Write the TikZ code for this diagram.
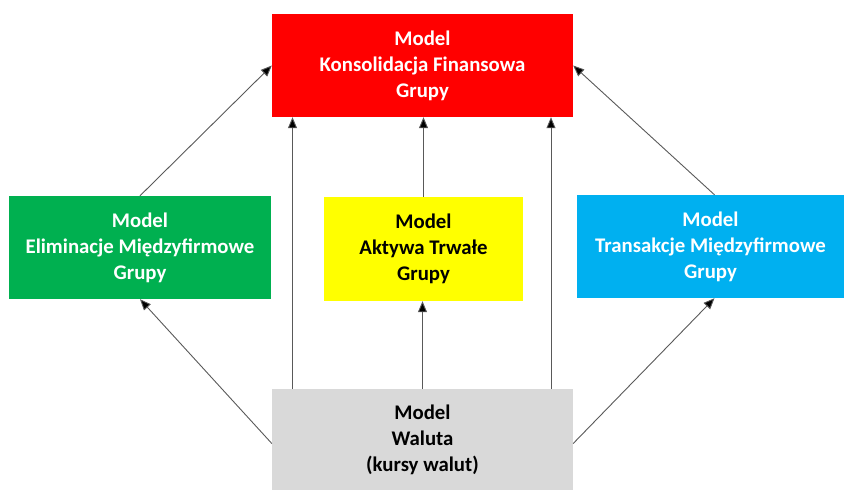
\documentclass[tikz,border=0pt]{standalone}
\usepackage{fontspec}
\setmainfont{Carlito}
\usepackage{xcolor}
\usepackage{tikz}
\usetikzlibrary{calc,arrows.meta}
\definecolor{mred}{HTML}{FF0000}
\definecolor{mgreen}{HTML}{00B050}
\definecolor{myellow}{HTML}{FFFF00}
\definecolor{mblue}{HTML}{00B0F0}
\definecolor{mgray}{HTML}{D9D9D9}
\definecolor{linegray}{HTML}{595959}
\tikzset{
  box/.style={rectangle, inner sep=0pt, align=center, font=\bfseries\fontsize{20.8}{26}\selectfont},
  arr/.style={draw=linegray, line width=0.9pt, -{Triangle[length=11pt,width=9pt,fill=black]}}
}

\begin{document}
\begin{tikzpicture}[x=1pt, y=-1pt]
  \useasboundingbox (0,0) rectangle (844,490);

  \node[box, fill=mred, text=white, minimum width=301pt, minimum height=103pt] (konsol) at (422.5,65.5)
    {Model\\Konsolidacja Finansowa\\Grupy};
  \node[box, fill=mgreen, text=white, minimum width=262pt, minimum height=103pt] (elim) at (140,247.5)
    {Model\\Eliminacje Międzyfirmowe\\Grupy};
  \node[box, fill=myellow, text=black, minimum width=199pt, minimum height=104pt] (aktywa) at (423.5,249)
    {Model\\Aktywa Trwałe\\Grupy};
  \node[box, fill=mblue, text=white, minimum width=267pt, minimum height=103pt] (trans) at (710.5,246.5)
    {Model\\Transakcje Międzyfirmowe\\Grupy};
  \node[box, fill=mgray, text=black, minimum width=301pt, minimum height=101pt] (waluta) at (422.5,439.5)
    {Model\\Waluta\\(kursy walut)};

  % into the consolidation model
  \draw[arr] (elim.north) -- (konsol.west);
  \draw[arr] ([xshift=4pt]trans.north) -- (konsol.east);
  \draw[arr] (aktywa.north) -- (aktywa.north |- konsol.south);
  \draw[arr] ([xshift=-130pt]waluta.north) -- ([xshift=-130pt]konsol.south);
  \draw[arr] ([xshift=128.5pt]waluta.north) -- ([xshift=128.5pt]konsol.south);

  % from the currency model
  \draw[arr] (waluta.north) -- (waluta.north |- aktywa.south);
  \draw[arr] ([yshift=-4pt]waluta.west) -- (elim.south);
  \draw[arr] ([yshift=-4pt]waluta.east) -- ([xshift=4pt]trans.south);
\end{tikzpicture}
\end{document}
